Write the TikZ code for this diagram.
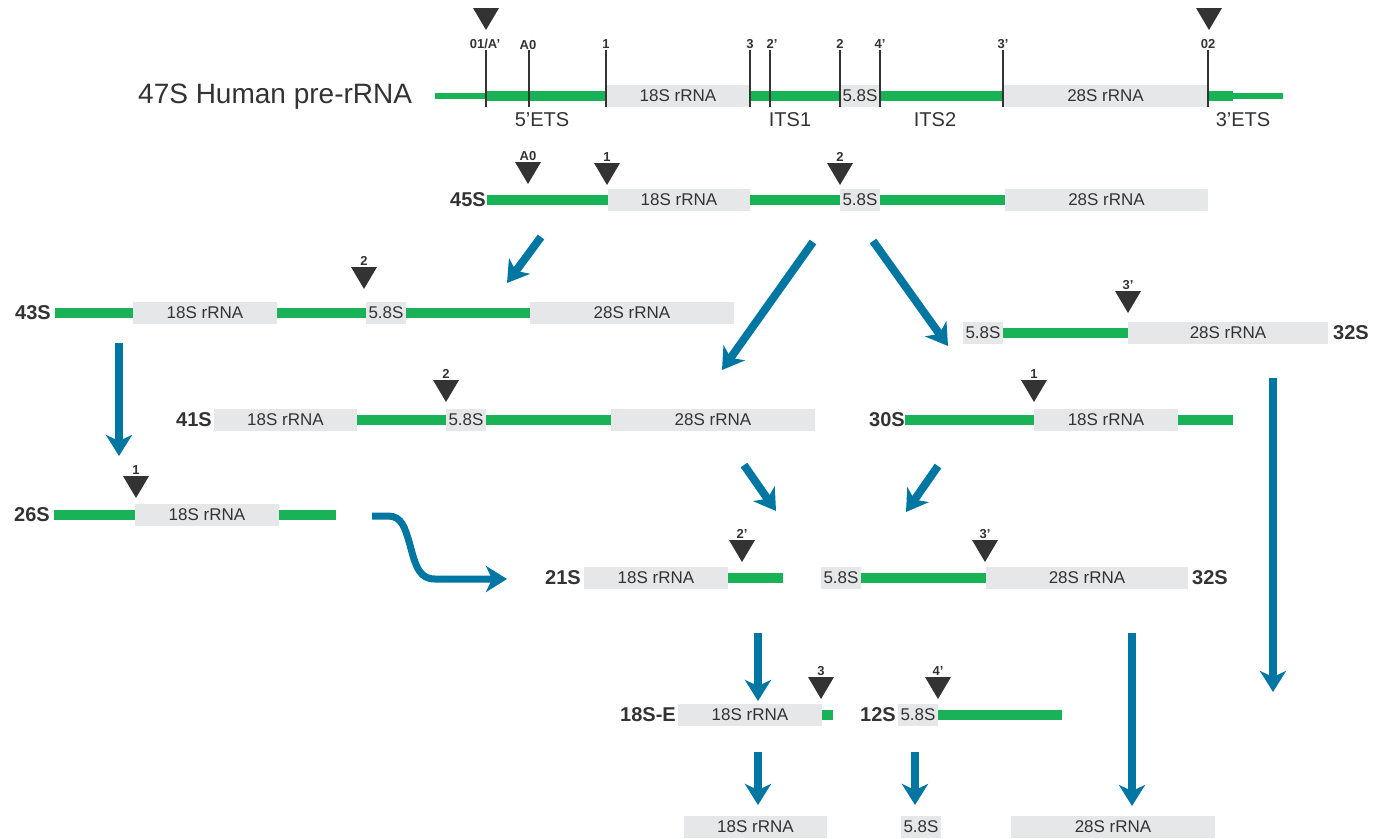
\documentclass[tikz,border=0pt]{standalone}
\usepackage{fontspec}
\setmainfont{Liberation Sans}
\usetikzlibrary{arrows.meta}
\definecolor{rgreen}{RGB}{26,178,87}
\definecolor{boxgray}{RGB}{230,231,232}
\definecolor{txtgray}{RGB}{51,51,51}
\definecolor{tridark}{RGB}{51,51,51}
\definecolor{flowblue}{RGB}{0,118,163}
\tikzset{
  rbox/.style={rectangle, fill=boxgray, inner sep=0pt, minimum height=22pt, text=txtgray, font=\fontsize{17}{17}\selectfont},
  gline/.style={draw=rgreen, line width=10pt},
  thinline/.style={draw=rgreen, line width=6pt},
  tickline/.style={draw=tridark, line width=1.2pt},
  tri/.style={fill=tridark, draw=none},
  tlab/.style={font=\bfseries\fontsize{13}{13}\selectfont, text=txtgray, inner sep=0pt},
  rowlab/.style={font=\bfseries\fontsize{20}{20}\selectfont, text=txtgray, inner sep=0pt},
  reglab/.style={font=\fontsize{20}{20}\selectfont, text=txtgray, inner sep=0pt},
  flow/.style={draw=flowblue, line width=8pt, -{Stealth[length=21pt,width=26pt,inset=6pt]}},
}
% cut-site triangle: x, top y, label, name
\newcommand\cutsite[4]{%
  \fill[tri] (#1-13,#2) -- (#1+13,#2) -- (#1,#2+22) -- cycle;
  \node[tlab] (#4) at (#1,#2-6) {#3};}
\begin{document}
\begin{tikzpicture}[x=1pt,y=-1pt]
\useasboundingbox (0,0) rectangle (1383,838);

% ================= 47S =================
\node[reglab, anchor=west, font=\fontsize{28}{28}\selectfont] (t47) at (138,97) {47S Human pre-rRNA};
\draw[thinline] (435,96) -- (486,96);
\draw[gline] (486,96) -- (606,96);
\draw[gline] (750,96) -- (840,96);
\draw[gline] (880,96) -- (1003,96);
\draw[gline] (1208,96) -- (1233,96);
\draw[thinline] (1233,96) -- (1283,96);
\node[rbox, minimum width=144pt] (p18) at (678,96) {18S rRNA};
\node[rbox, minimum width=40pt] (p58) at (860,96) {5.8S};
\node[rbox, minimum width=205pt] (p28) at (1105.5,96) {28S rRNA};
\draw[tickline, line width=2pt] (486,50) -- (486,107);
\draw[tickline] (529,50) -- (529,107);
\draw[tickline] (606,50) -- (606,107);
\draw[tickline] (750,50) -- (750,107);
\draw[tickline, line width=2pt] (770,50) -- (770,107);
\draw[tickline] (840,50) -- (840,107);
\draw[tickline] (880,50) -- (880,107);
\draw[tickline] (1003,50) -- (1003,107);
\draw[tickline] (1208,50) -- (1208,107);
\node[tlab] (l01) at (485,44) {01/A’};
\node[tlab] (lA0) at (528,45) {A0};
\node[tlab] (l1) at (606,44) {1};
\node[tlab] (l3) at (750,44) {3};
\node[tlab] (l2p) at (772,44) {2’};
\node[tlab] (l2) at (840,44) {2};
\node[tlab] (l4p) at (880,44) {4’};
\node[tlab] (l3p) at (1003,44) {3’};
\node[tlab] (l02) at (1208,44) {02};
\fill[tri] (473,8) -- (499,8) -- (486,30) -- cycle;
\fill[tri] (1196,8) -- (1222,8) -- (1209,30) -- cycle;
\node[reglab] (ets5) at (542,120) {5’ETS};
\node[reglab] (its1) at (790,120) {ITS1};
\node[reglab] (its2) at (935,120) {ITS2};
\node[reglab] (ets3) at (1243,120) {3’ETS};

% ================= 45S =================
\node[rowlab, anchor=east] (t45) at (486,200) {45S};
\draw[gline] (487,200) -- (608,200);
\draw[gline] (750,200) -- (840,200);
\draw[gline] (880,200) -- (1005,200);
\node[rbox, minimum width=142pt] (a18) at (679,200) {18S rRNA};
\node[rbox, minimum width=40pt] (a58) at (860,200) {5.8S};
\node[rbox, minimum width=203pt] (a28) at (1106.5,200) {28S rRNA};
\cutsite{528}{162}{A0}{c45a}
\cutsite{607}{163}{1}{c45b}
\cutsite{840}{163}{2}{c45c}

% ================= 43S =================
\node[rowlab, anchor=east] (t43) at (51,313) {43S};
\draw[gline] (55,313) -- (133,313);
\draw[gline] (277,313) -- (366,313);
\draw[gline] (406,313) -- (530,313);
\node[rbox, minimum width=144pt] (b18) at (205,313) {18S rRNA};
\node[rbox, minimum width=40pt] (b58) at (386,313) {5.8S};
\node[rbox, minimum width=204pt] (b28) at (632,313) {28S rRNA};
\cutsite{364}{267}{2}{c43}

% ================= 32S (a) =================
\draw[gline] (1003,333) -- (1128,333);
\node[rbox, minimum width=40pt] (d58) at (983,333) {5.8S};
\node[rbox, minimum width=200pt] (d28) at (1228,333) {28S rRNA};
\node[rowlab, anchor=west] (t32a) at (1333,333) {32S};
\cutsite{1128}{291}{3’}{c32a}

% ================= 41S =================
\node[rowlab, anchor=east] (t41) at (212,420) {41S};
\draw[gline] (357,420) -- (446,420);
\draw[gline] (486,420) -- (611,420);
\node[rbox, minimum width=143pt] (e18) at (285.5,420) {18S rRNA};
\node[rbox, minimum width=40pt] (e58) at (466,420) {5.8S};
\node[rbox, minimum width=204pt] (e28) at (713,420) {28S rRNA};
\cutsite{446}{380}{2}{c41}

% ================= 30S =================
\node[rowlab, anchor=east] (t30) at (905,420) {30S};
\draw[gline] (905,420) -- (1034,420);
\draw[gline] (1178,420) -- (1233,420);
\node[rbox, minimum width=144pt] (f18) at (1106,420) {18S rRNA};
\cutsite{1034}{380}{1}{c30}

% ================= 26S =================
\node[rowlab, anchor=east] (t26) at (50,515) {26S};
\draw[gline] (54,515) -- (135,515);
\draw[gline] (279,515) -- (336,515);
\node[rbox, minimum width=144pt] (g18) at (207,515) {18S rRNA};
\cutsite{136}{476}{1}{c26}

% ================= 21S =================
\node[rowlab, anchor=east] (t21) at (581,578) {21S};
\draw[gline] (728,578) -- (783,578);
\node[rbox, minimum width=144pt] (h18) at (656,578) {18S rRNA};
\cutsite{742}{540}{2’}{c21}

% ================= 32S (b) =================
\draw[gline] (861,578) -- (986,578);
\node[rbox, minimum width=40pt] (i58) at (841,578) {5.8S};
\node[rbox, minimum width=202pt] (i28) at (1087,578) {28S rRNA};
\node[rowlab, anchor=west] (t32b) at (1192,578) {32S};
\cutsite{985}{540}{3’}{c32b}

% ================= 18S-E =================
\node[rowlab, anchor=east] (t18e) at (676,715) {18S-E};
\draw[gline] (822,715) -- (833,715);
\node[rbox, minimum width=144pt] (j18) at (750,715) {18S rRNA};
\cutsite{821}{677}{3}{c18e}

% ================= 12S =================
\node[rowlab, anchor=east] (t12) at (896,715) {12S};
\draw[gline] (938,715) -- (1062,715);
\node[rbox, minimum width=40pt] (k58) at (918,715) {5.8S};
\cutsite{938}{677}{4’}{c12}

% ================= mature =================
\node[rbox, minimum width=143pt] (m18) at (755.5,827) {18S rRNA};
\node[rbox, minimum width=40pt] (m58) at (921,827) {5.8S};
\node[rbox, minimum width=204pt] (m28) at (1113,827) {28S rRNA};

% ================= arrows =================
\coordinate (f1s) at (541,237); \coordinate (f1e) at (507,283);
\coordinate (f2s) at (813,242); \coordinate (f2e) at (722,370);
\coordinate (f3s) at (873,241); \coordinate (f3e) at (948,346);
\coordinate (f4s) at (119,343); \coordinate (f4e) at (119,456);
\coordinate (f5s) at (1273,378); \coordinate (f5e) at (1273,692);
\coordinate (f6s) at (744,465); \coordinate (f6e) at (776,511);
\coordinate (f7s) at (938,466); \coordinate (f7e) at (906,512);
\coordinate (f8s) at (372,516); \coordinate (f8e) at (507,579);
\coordinate (f9s) at (758,633); \coordinate (f9e) at (758,701);
\coordinate (f10s) at (758,752); \coordinate (f10e) at (758,805);
\coordinate (f11s) at (915,752); \coordinate (f11e) at (915,805);
\coordinate (f12s) at (1132,633); \coordinate (f12e) at (1132,806);
\draw[flow] (f1s) -- (f1e);
\draw[flow] (f2s) -- (f2e);
\draw[flow] (f3s) -- (f3e);
\draw[flow] (f4s) -- (f4e);
\draw[flow] (f5s) -- (f5e);
\draw[flow] (f6s) -- (f6e);
\draw[flow] (f7s) -- (f7e);
\draw[flow, line width=7pt] (f8s) -- (388,516) .. controls (402,516) and (405,528) .. (410,545) .. controls (416,568) and (420,579) .. (435,579) -- (f8e);
\draw[flow] (f9s) -- (f9e);
\draw[flow] (f10s) -- (f10e);
\draw[flow] (f11s) -- (f11e);
\draw[flow] (f12s) -- (f12e);
\end{tikzpicture}
\end{document}
